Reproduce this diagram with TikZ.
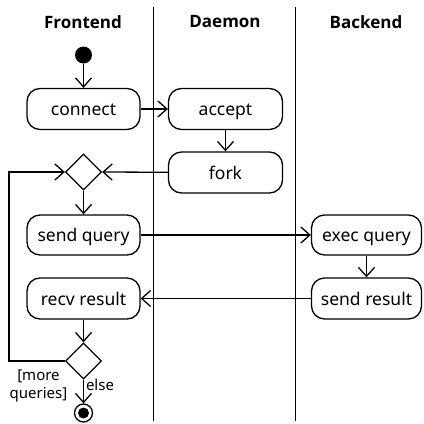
\documentclass[tikz,border=0pt]{standalone}
\usepackage{fontspec}
\setmainfont{Noto Sans}
\newfontfamily\headfont{Open Sans}
\usetikzlibrary{arrows.meta,shapes.geometric}
\begin{document}
\begin{tikzpicture}[x=1pt,y=-1pt,
  act/.style={draw, line width=1.3pt, rounded corners=13pt, minimum height=41pt, inner sep=0pt, text height=13.5pt, text depth=0pt, font=\fontsize{17.5}{20}\selectfont},
  dec/.style={draw, diamond, minimum width=36pt, minimum height=36pt, inner sep=0pt, line width=1.3pt},
  flow/.style={-{Straight Barb[length=9pt,width=16pt]}, line width=1.3pt},
  lane/.style={line width=1pt},
  head/.style={font=\headfont\bfseries\fontsize{17}{20}\selectfont},
  lbl/.style={font=\fontsize{15}{18.5}\selectfont, align=center, inner sep=0pt}]
\useasboundingbox (0,0) rectangle (424,424);
\node[head] (hf) at (83,22) {Frontend};
\node[head] (hd) at (225,22) {Daemon};
\node[head] (hb) at (366,22) {Backend};
\coordinate (l1t) at (153,7); \coordinate (l1b) at (153,421);
\coordinate (l2t) at (295,7); \coordinate (l2b) at (295,421);
\draw[lane] (l1t) -- (l1b);
\draw[lane] (l2t) -- (l2b);

\node[circle, fill, inner sep=0pt, minimum size=17pt] (start) at (83.5,55) {};
\node[act, minimum width=113pt] (connect) at (83.5,109) {connect};
\node[act, minimum width=114pt] (accept) at (225.5,109) {accept};
\node[act, minimum width=114pt] (fork) at (225.5,172.5) {fork};
\node[dec] (d1) at (83.5,172) {};
\node[act, minimum width=113pt, minimum height=40pt] (sendq) at (83.5,235) {send query};
\node[act, minimum width=113pt] (recv) at (83.5,298.5) {recv result};
\node[act, minimum width=110pt, minimum height=40pt] (execq) at (366.5,235) {exec query};
\node[act, minimum width=110pt] (sendr) at (366.5,298.5) {send result};
\node[dec] (d2) at (83.5,361) {};
\node[circle, draw, line width=1.3pt, inner sep=0pt, minimum size=18pt] (final) at (83.5,413) {};
\fill (final.center) circle[radius=5.5];

\draw[flow] (start) -- (connect);
\draw[flow] (connect) -- (accept);
\draw[flow] (accept) -- (fork);
\draw[flow] (fork) -- (d1.east);
\draw[flow] (d1) -- (sendq);
\draw[flow] (sendq) -- (execq);
\draw[flow] (execq) -- (sendr);
\draw[flow] (sendr) -- (recv);
\draw[flow] (recv) -- (d2.north);
\draw[flow] (d2.south) -- (final);
\coordinate (lx) at (9,0);
\draw[flow] (d2.west) -- (d2.west -| lx) |- (d1.west);

\node[lbl] (more) at (38.5,386) {[more\\queries]};
\node[lbl] (else) at (100,385) {else};
\end{tikzpicture}
\end{document}
